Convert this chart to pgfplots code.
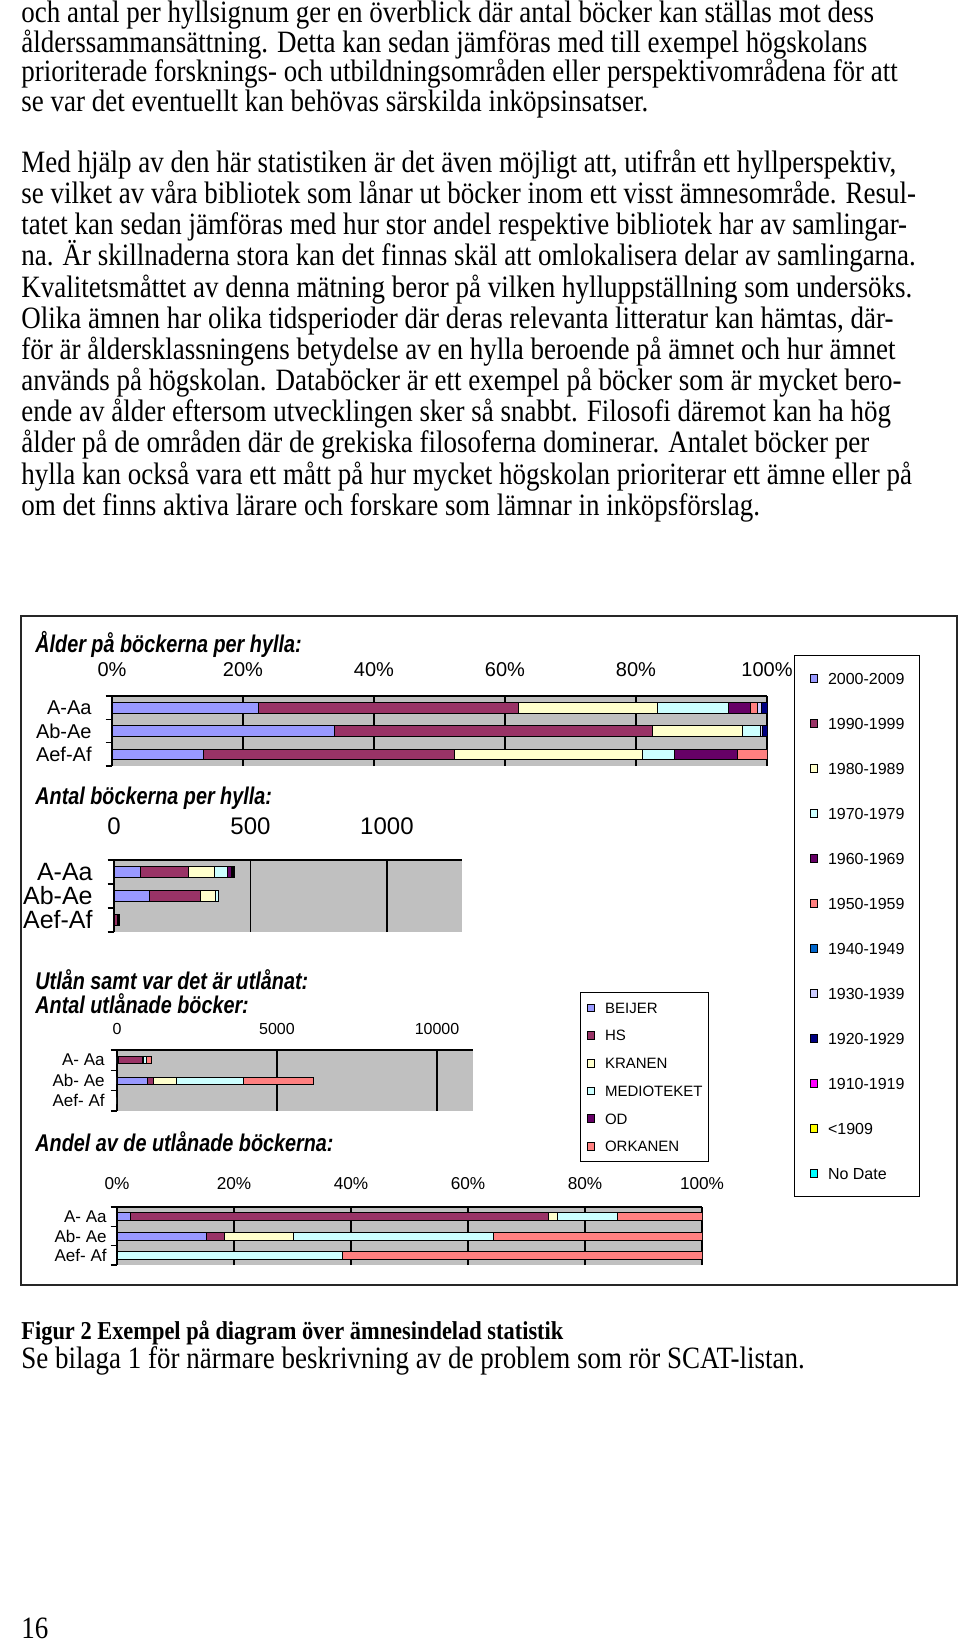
\documentclass[border=0pt]{standalone}
\usepackage{fontspec}
\setmainfont{Liberation Serif}
\newfontfamily\chartfont{Liberation Sans}
\usepackage{pgfplots}
\usepackage{pgfplotstable}
\pgfplotsset{compat=1.18}

\definecolor{c1}{HTML}{9999FF}
\definecolor{c2}{HTML}{993366}
\definecolor{c3}{HTML}{FFFFCC}
\definecolor{c4}{HTML}{CCFFFF}
\definecolor{c5}{HTML}{660066}
\definecolor{c6}{HTML}{FF8080}
\definecolor{c7}{HTML}{0066CC}
\definecolor{c8}{HTML}{CCCCFF}
\definecolor{c9}{HTML}{000080}
\definecolor{c10}{HTML}{FF00FF}
\definecolor{c11}{HTML}{FFFF00}
\definecolor{c12}{HTML}{00FFFF}
\definecolor{excelgray}{HTML}{C0C0C0}

% Age share per shelf (percent); y: 2=A-Aa, 1=Ab-Ae, 0=Aef-Af
\pgfplotstableread{
y s1 s2 s3 s4 s5 s6 s7 s8 s9 s10 s11 s12
2 22.3 39.7 21.3 10.8 3.4 1.1 0 0.5 0.9 0 0 0
1 33.9 48.6 13.7 2.8 0 0 0 0.3 0.7 0 0 0
0 14.0 38.2 28.7 5.0 9.5 4.6 0 0 0 0 0 0
}\agepct
% Number of books per shelf
\pgfplotstableread{
y s1 s2 s3 s4 s5 s6 s7 s8 s9 s10 s11 s12
2 98 175 94 47 15 5 0 2 4 0 0 0
1 130 187 53 11 0 0 0 1 2 0 0 0
0 3 8 6 1 2 1 0 0 0 0 0 0
}\agecnt
% Loans per library (count)
\pgfplotstableread{
y l1 l2 l3 l4 l5 l6
2 27 780 14 110 0 158
1 937 184 729 2090 0 2188
0 0 0 0 5 0 8
}\loancnt
% Loans per library (percent)
\pgfplotstableread{
y l1 l2 l3 l4 l5 l6
2 2.3 71.5 1.4 10.3 0 14.5
1 15.3 3.0 11.9 34.1 0 35.7
0 0 0 0 38.5 0 61.5
}\loanpct

\pgfplotsset{
  excelbar/.style={
    xbar stacked, scale only axis,
    axis x line*=top, axis y line*=left,
    ymin=-0.5, ymax=2.5, ytick={0,1,2},
    minor ytick={-0.5,0.5,1.5,2.5},
    major tick length=0pt, minor tick length=3.2pt, tick align=outside,
    minor tick style={black, line width=0.8pt},
    axis background/.style={fill=excelgray},
    xmajorgrids, major grid style={black, line width=0.7pt},
    x axis line style={black, line width=1.1pt, -},
    y axis line style={black, line width=0.8pt, -},
    scaled x ticks=false,
    /pgf/number format/assume math mode=true,
    /pgf/number format/1000 sep={},
    xmin=0,
    every axis plot/.append style={draw=black, line width=0.35pt},
    every axis plot post/.append style={legend image code/.code={
      \draw[##1, draw=black, line width=0.4pt] (0pt,-1.9pt) rectangle (3.8pt,1.9pt);
      \path (8.8pt,0pt);}},
    legend cell align=left,
  }
}
\newcommand\tl[1]{\scalebox{1}[1.15]{#1}}

\begin{document}
\begin{tikzpicture}[x=0.5pt, y=-0.5pt]
\useasboundingbox (0,0) rectangle (960,1643);

% ---------- body text ----------
\begin{scope}[every node/.style={anchor=base west, inner sep=0pt, font=\fontsize{13.5}{15}\selectfont}]
\node at (21,23) {\tl{och antal per hyllsignum ger en överblick där antal böcker kan ställas mot dess}};
\node at (21,52.5) {\tl{ålderssammansättning. Detta kan sedan jämföras med till exempel högskolans}};
\node at (21,81.5) {\tl{prioriterade forsknings- och utbildningsområden eller perspektivområdena för att}};
\node at (21,111.5) {\tl{se var det eventuellt kan behövas särskilda inköpsinsatser.}};
\node at (21,172.5) {\tl{Med hjälp av den här statistiken är det även möjligt att, utifrån ett hyllperspektiv,}};
\node at (21,203.7) {\tl{se vilket av våra bibliotek som lånar ut böcker inom ett visst ämnesområde. Resul-}};
\node at (21,234.8) {\tl{tatet kan sedan jämföras med hur stor andel respektive bibliotek har av samlingar-}};
\node at (21,265.9) {\tl{na. Är skillnaderna stora kan det finnas skäl att omlokalisera delar av samlingarna.}};
\node at (21,297.1) {\tl{Kvalitetsmåttet av denna mätning beror på vilken hylluppställning som undersöks.}};
\node at (21,328.2) {\tl{Olika ämnen har olika tidsperioder där deras relevanta litteratur kan hämtas, där-}};
\node at (21,359.4) {\tl{för är åldersklassningens betydelse av en hylla beroende på ämnet och hur ämnet}};
\node at (21,390.6) {\tl{används på högskolan. Databöcker är ett exempel på böcker som är mycket bero-}};
\node at (21,421.7) {\tl{ende av ålder eftersom utvecklingen sker så snabbt. Filosofi däremot kan ha hög}};
\node at (21,452.9) {\tl{ålder på de områden där de grekiska filosoferna dominerar. Antalet böcker per}};
\node at (21,484) {\tl{hylla kan också vara ett mått på hur mycket högskolan prioriterar ett ämne eller på}};
\node at (21,515.2) {\tl{om det finns aktiva lärare och forskare som lämnar in inköpsförslag.}};
\node at (21,1368) {\tl{Se bilaga 1 för närmare beskrivning av de problem som rör SCAT-listan.}};
\node at (21,1638) {\tl{16}};
\node[font=\bfseries\fontsize{11.2}{13}\selectfont] at (21,1339) {\tl{Figur 2 Exempel på diagram över ämnesindelad statistik}};
\end{scope}

% ---------- chart frame ----------
\draw[line width=0.8pt, black!85] (21,616) rectangle (957,1285);

% ---------- titles ----------
\begin{scope}[every node/.style={anchor=west, inner sep=0pt, font=\chartfont\bfseries\itshape\fontsize{11}{12}\selectfont}]
\node at (35,644) {\scalebox{0.9}[1.1]{Ålder på böckerna per hylla:}};
\node at (35,798) {\scalebox{0.9}[1.1]{Antal böckerna per hylla:}};
\node at (35,980) {\scalebox{0.9}[1.1]{Utlån samt var det är utlånat:}};
\node at (35,1004) {\scalebox{0.9}[1.1]{Antal utlånade böcker:}};
\node at (35,1142) {\scalebox{0.9}[1.1]{Andel av de utlånade böckerna:}};
\end{scope}

% ---------- chart 1: age share ----------
\begin{axis}[excelbar,
  at={(56pt,-348pt)}, anchor=north west,
  width=327.5pt, height=35pt, bar width=5.2pt,
  xmax=100, xtick={0,20,...,100},
  xticklabel={\pgfmathprintnumber{\tick}\%},
  xticklabel style={anchor=base, inner sep=0pt, yshift=10pt, font=\chartfont\fontsize{10}{12}\selectfont},
  yticklabels={Aef-Af,Ab-Ae,A-Aa},
  yticklabel style={anchor=east, inner sep=0pt, xshift=-10pt, font=\chartfont\fontsize{10}{12}\selectfont},
  legend style={at={(axis description cs:1.0412,1.5857)}, anchor=north west,
    draw=black, line width=0.7pt, fill=white, inner xsep=7.5pt, inner ysep=8.5pt,
    row sep=16.7pt, font=\chartfont\fontsize{8}{9}\selectfont,
    nodes={inner sep=0pt, text height=5.8pt, text depth=0pt}},
]
\addplot[fill=c1] table[x=s1,y=y] {\agepct};
\addplot[fill=c2] table[x=s2,y=y] {\agepct};
\addplot[fill=c3] table[x=s3,y=y] {\agepct};
\addplot[fill=c4] table[x=s4,y=y] {\agepct};
\addplot[fill=c5] table[x=s5,y=y] {\agepct};
\addplot[fill=c6] table[x=s6,y=y] {\agepct};
\addplot[fill=c7] table[x=s7,y=y] {\agepct};
\addplot[fill=c8] table[x=s8,y=y] {\agepct};
\addplot[fill=c9] table[x=s9,y=y] {\agepct};
\addplot[fill=c10] table[x=s10,y=y] {\agepct};
\addplot[fill=c11] table[x=s11,y=y] {\agepct};
\addplot[fill=c12] table[x=s12,y=y] {\agepct};
\legend{2000-2009,1990-1999,1980-1989,1970-1979,1960-1969,1950-1959,1940-1949,1930-1939,1920-1929,1910-1919,<1909,No Date}
\end{axis}

% ---------- chart 2: number of books ----------
\begin{axis}[excelbar,
  at={(57pt,-430pt)}, anchor=north west,
  width=174pt, height=36pt, bar width=5.3pt,
  xmax=1275, xtick={0,500,1000},
  xticklabel style={anchor=base, inner sep=0pt, yshift=12.7pt, font=\chartfont\fontsize{12}{14}\selectfont},
  yticklabels={Aef-Af,Ab-Ae,A-Aa},
  yticklabel style={anchor=east, inner sep=0pt, xshift=-10.5pt, font=\chartfont\fontsize{12.5}{14}\selectfont},
]
\addplot[fill=c1] table[x=s1,y=y] {\agecnt};
\addplot[fill=c2] table[x=s2,y=y] {\agecnt};
\addplot[fill=c3] table[x=s3,y=y] {\agecnt};
\addplot[fill=c4] table[x=s4,y=y] {\agecnt};
\addplot[fill=c5] table[x=s5,y=y] {\agecnt};
\addplot[fill=c6] table[x=s6,y=y] {\agecnt};
\addplot[fill=c7] table[x=s7,y=y] {\agecnt};
\addplot[fill=c8] table[x=s8,y=y] {\agecnt};
\addplot[fill=c9] table[x=s9,y=y] {\agecnt};
\addplot[fill=c10] table[x=s10,y=y] {\agecnt};
\addplot[fill=c11] table[x=s11,y=y] {\agecnt};
\addplot[fill=c12] table[x=s12,y=y] {\agecnt};
\end{axis}

% ---------- chart 3: loans count ----------
\begin{axis}[excelbar,
  at={(58.5pt,-525pt)}, anchor=north west,
  width=178pt, height=30.5pt, bar width=3.4pt,
  xmax=11125, xtick={0,5000,10000},
  xticklabel style={anchor=base, inner sep=0pt, yshift=8pt, font=\chartfont\fontsize{8}{10}\selectfont},
  yticklabels={Aef- Af,Ab- Ae,A- Aa},
  yticklabel style={anchor=east, inner sep=0pt, xshift=-6pt, font=\chartfont\fontsize{8.5}{10}\selectfont},
  legend style={at={(axis description cs:1.3006,1.9508)}, anchor=north west,
    draw=black, line width=0.7pt, fill=white, inner xsep=3pt, inner ysep=4.75pt,
    row sep=8.35pt, font=\chartfont\fontsize{7.5}{9}\selectfont,
    nodes={inner sep=0pt, text height=5.5pt, text depth=0pt}},
]
\addplot[fill=c1] table[x=l1,y=y] {\loancnt};
\addplot[fill=c2] table[x=l2,y=y] {\loancnt};
\addplot[fill=c3] table[x=l3,y=y] {\loancnt};
\addplot[fill=c4] table[x=l4,y=y] {\loancnt};
\addplot[fill=c5] table[x=l5,y=y] {\loancnt};
\addplot[fill=c6] table[x=l6,y=y] {\loancnt};
\legend{BEIJER,HS,KRANEN,MEDIOTEKET,OD,ORKANEN}
\end{axis}

% ---------- chart 4: loans share ----------
\begin{axis}[excelbar,
  at={(58.5pt,-603.5pt)}, anchor=north west,
  width=292.5pt, height=29pt, bar width=4pt,
  xmax=100, xtick={0,20,...,100},
  xticklabel={\pgfmathprintnumber{\tick}\%},
  xticklabel style={anchor=base, inner sep=0pt, yshift=9pt, font=\chartfont\fontsize{8.6}{10}\selectfont},
  yticklabels={Aef- Af,Ab- Ae,A- Aa},
  yticklabel style={anchor=east, inner sep=0pt, xshift=-5pt, font=\chartfont\fontsize{8.5}{10}\selectfont},
]
\addplot[fill=c1] table[x=l1,y=y] {\loanpct};
\addplot[fill=c2] table[x=l2,y=y] {\loanpct};
\addplot[fill=c3] table[x=l3,y=y] {\loanpct};
\addplot[fill=c4] table[x=l4,y=y] {\loanpct};
\addplot[fill=c5] table[x=l5,y=y] {\loanpct};
\addplot[fill=c6] table[x=l6,y=y] {\loanpct};
\end{axis}
\end{tikzpicture}
\end{document}
